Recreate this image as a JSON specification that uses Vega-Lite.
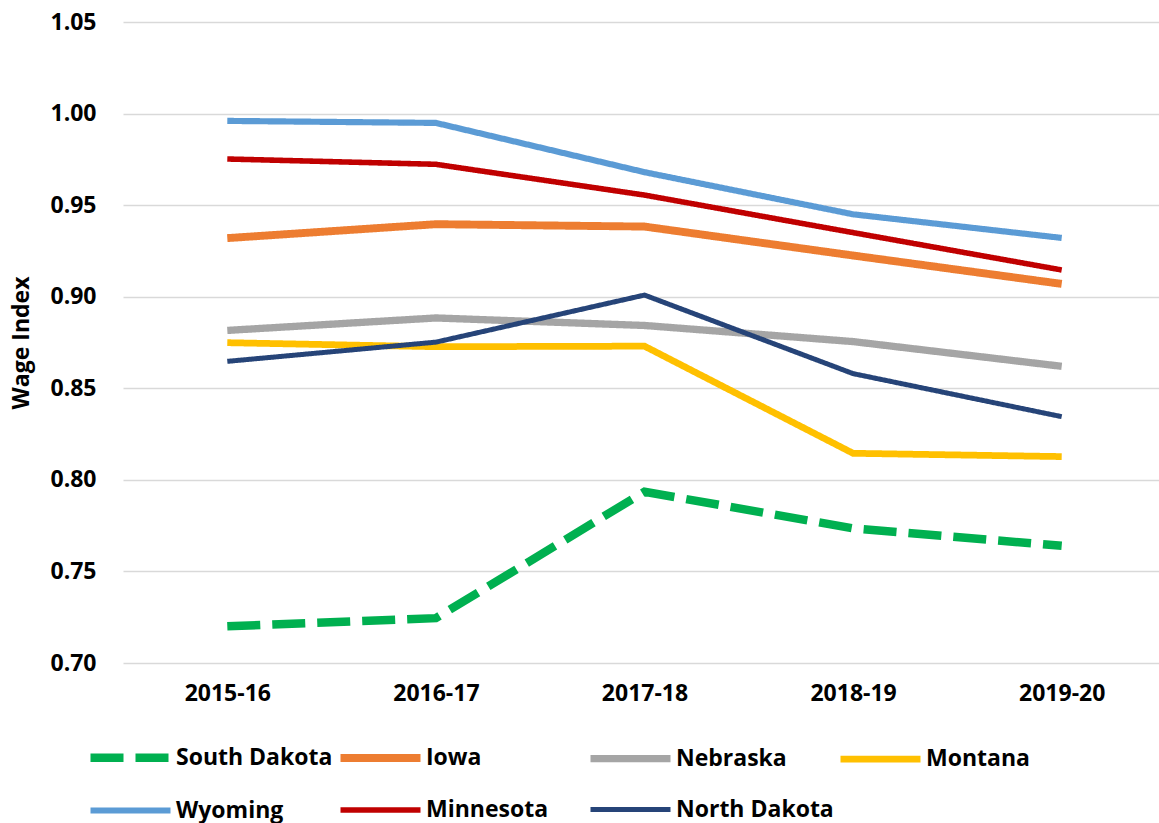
{
  "$schema": "https://vega.github.io/schema/vega-lite/v6.json",
  "width": 1043,
  "height": 641,
  "autosize": "none",
  "padding": {"left": 123, "top": 22, "right": 0, "bottom": 160},
  "background": "white",
  "config": {
    "font": "Open Sans",
    "view": {"stroke": null}
  },
  "data": {
    "values": [
      {"Year": "2015-16", "State": "South Dakota", "Index": 0.720},
      {"Year": "2016-17", "State": "South Dakota", "Index": 0.7245},
      {"Year": "2017-18", "State": "South Dakota", "Index": 0.7935},
      {"Year": "2018-19", "State": "South Dakota", "Index": 0.7735},
      {"Year": "2019-20", "State": "South Dakota", "Index": 0.764},
      {"Year": "2015-16", "State": "Iowa", "Index": 0.932},
      {"Year": "2016-17", "State": "Iowa", "Index": 0.9396},
      {"Year": "2017-18", "State": "Iowa", "Index": 0.9383},
      {"Year": "2018-19", "State": "Iowa", "Index": 0.9225},
      {"Year": "2019-20", "State": "Iowa", "Index": 0.907},
      {"Year": "2015-16", "State": "Nebraska", "Index": 0.8816},
      {"Year": "2016-17", "State": "Nebraska", "Index": 0.8884},
      {"Year": "2017-18", "State": "Nebraska", "Index": 0.8843},
      {"Year": "2018-19", "State": "Nebraska", "Index": 0.8755},
      {"Year": "2019-20", "State": "Nebraska", "Index": 0.862},
      {"Year": "2015-16", "State": "Montana", "Index": 0.8749},
      {"Year": "2016-17", "State": "Montana", "Index": 0.8727},
      {"Year": "2017-18", "State": "Montana", "Index": 0.873},
      {"Year": "2018-19", "State": "Montana", "Index": 0.8145},
      {"Year": "2019-20", "State": "Montana", "Index": 0.8127},
      {"Year": "2015-16", "State": "Wyoming", "Index": 0.996},
      {"Year": "2016-17", "State": "Wyoming", "Index": 0.9949},
      {"Year": "2017-18", "State": "Wyoming", "Index": 0.968},
      {"Year": "2018-19", "State": "Wyoming", "Index": 0.945},
      {"Year": "2019-20", "State": "Wyoming", "Index": 0.9321},
      {"Year": "2015-16", "State": "Minnesota", "Index": 0.9752},
      {"Year": "2016-17", "State": "Minnesota", "Index": 0.9723},
      {"Year": "2017-18", "State": "Minnesota", "Index": 0.9555},
      {"Year": "2018-19", "State": "Minnesota", "Index": 0.935},
      {"Year": "2019-20", "State": "Minnesota", "Index": 0.9146},
      {"Year": "2015-16", "State": "North Dakota", "Index": 0.8647},
      {"Year": "2016-17", "State": "North Dakota", "Index": 0.8752},
      {"Year": "2017-18", "State": "North Dakota", "Index": 0.9009},
      {"Year": "2018-19", "State": "North Dakota", "Index": 0.858},
      {"Year": "2019-20", "State": "North Dakota", "Index": 0.8345}
    ]
  },
  "mark": {"type": "line", "clip": false},
  "encoding": {
    "x": {
      "field": "Year",
      "type": "ordinal",
      "scale": {"type": "point", "padding": 0.5},
      "axis": {
        "title": null,
        "labelAngle": 0,
        "labelFontSize": 23,
        "labelFontWeight": "bold",
        "labelColor": "#000000",
        "labelPadding": 19,
        "ticks": false,
        "domain": false,
        "grid": false
      }
    },
    "y": {
      "field": "Index",
      "type": "quantitative",
      "scale": {"domain": [0.7, 1.05], "nice": false, "zero": false},
      "axis": {
        "title": "Wage Index",
        "titleFontSize": 23,
        "titleFontWeight": "bold",
        "titleColor": "#000000",
        "titlePadding": 16,
        "values": [0.7, 0.75, 0.8, 0.85, 0.9, 0.95, 1.0, 1.05],
        "format": ".2f",
        "labelFontSize": 23,
        "labelFontWeight": "bold",
        "labelColor": "#000000",
        "labelPadding": 27,
        "ticks": false,
        "domain": false,
        "grid": true,
        "gridColor": "#d9d9d9",
        "gridWidth": 1.5
      }
    },
    "color": {
      "field": "State",
      "type": "nominal",
      "scale": {
        "domain": ["South Dakota", "Iowa", "Nebraska", "Montana", "Wyoming", "Minnesota", "North Dakota"],
        "range": ["#00B050", "#ED7D31", "#A5A5A5", "#FFC000", "#5B9BD5", "#C00000", "#264478"]
      },
      "legend": {
        "title": null,
        "orient": "none",
        "legendX": 3,
        "legendY": 711,
        "direction": "horizontal",
        "columns": 4,
        "gridAlign": "all",
        "symbolType": "M-3,0H1",
        "symbolSize": 1600,
        "labelFontSize": 23,
        "labelFontWeight": "bold",
        "labelColor": "#000000",
        "labelOffset": 1,
        "labelLimit": 300,
        "columnPadding": -10,
        "rowPadding": 12
      }
    },
    "strokeDash": {
      "field": "State",
      "type": "nominal",
      "scale": {
        "domain": ["South Dakota", "Iowa", "Nebraska", "Montana", "Wyoming", "Minnesota", "North Dakota"],
        "range": [[33, 12], [1, 0], [1, 0], [1, 0], [1, 0], [1, 0], [1, 0]]
      }
    },
    "strokeWidth": {
      "field": "State",
      "type": "nominal",
      "scale": {
        "domain": ["South Dakota", "Iowa", "Nebraska", "Montana", "Wyoming", "Minnesota", "North Dakota"],
        "range": [8.5, 5, 5, 5, 5, 5, 5]
      }
    }
  }
}
